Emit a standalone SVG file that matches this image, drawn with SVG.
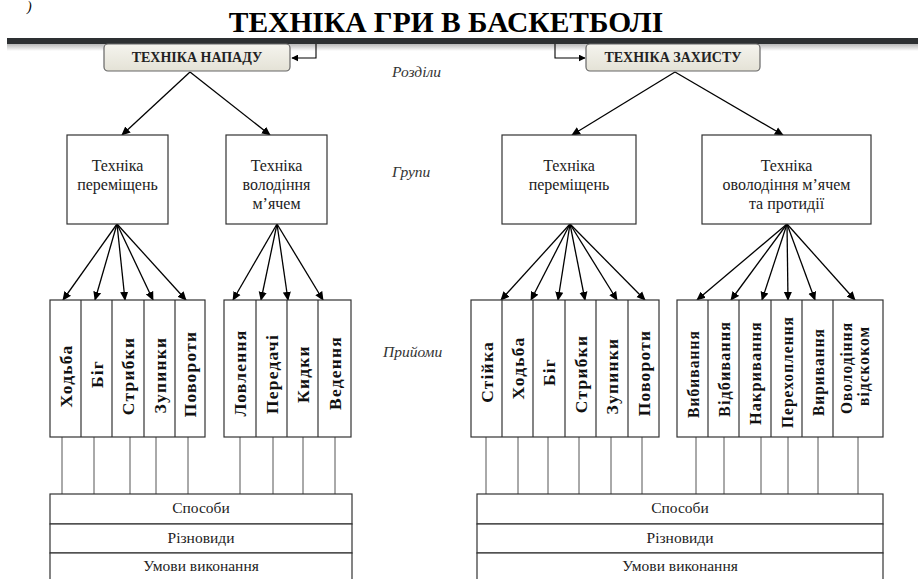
<svg xmlns="http://www.w3.org/2000/svg" width="918" height="579" viewBox="0 0 918 579">
<defs>
<linearGradient id="topfill" x1="0" y1="0" x2="0" y2="1"><stop offset="0" stop-color="#f5f4ee"/><stop offset="1" stop-color="#e4e2d6"/></linearGradient>
<linearGradient id="shadow" x1="0" y1="0" x2="0" y2="1"><stop offset="0" stop-color="#b8b8b8"/><stop offset="1" stop-color="#ffffff"/></linearGradient>
<marker id="ah" viewBox="0 0 10 10" refX="9" refY="5" markerWidth="7" markerHeight="7" markerUnits="userSpaceOnUse" orient="auto"><path d="M0,0 L10,5 L0,10 z" fill="#000"/></marker>
<marker id="ah2" viewBox="0 0 10 10" refX="9" refY="5" markerWidth="9" markerHeight="9" markerUnits="userSpaceOnUse" orient="auto"><path d="M0,0.5 L10,5 L0,9.5 z" fill="#000"/></marker>
</defs>
<style>
text{font-family:'Liberation Serif','Times New Roman','DejaVu Serif',serif}
.ttl{font-weight:bold;font-size:29.5px;fill:#000}
.top rect{fill:url(#topfill);stroke:#666;stroke-width:1.2}
.top text{font-weight:bold;font-size:14px;fill:#222;text-anchor:middle}
.grp rect{fill:#fff;stroke:#333;stroke-width:1.2}
.grp text{font-size:16px;fill:#222;text-anchor:middle}
.col rect{fill:#fff;stroke:#333;stroke-width:1.2}
.col line{stroke:#333;stroke-width:1.2}
.col text{font-weight:bold;font-size:17.5px;letter-spacing:1.2px;fill:#111;text-anchor:middle}
.lvl{font-style:italic;font-size:15.5px;fill:#333}
.rows rect{fill:#fff;stroke:#333;stroke-width:1.2}
.rows text{font-size:15.5px;fill:#222;text-anchor:middle}
.fan line{stroke:#000;stroke-width:1.3;marker-end:url(#ah2)}
.vert line{stroke:#555;stroke-width:1}
.cn{fill:none;stroke:#000;stroke-width:1.1}
</style>
<rect x="0" y="0" width="918" height="579" fill="#fff"/>
<text x="27" y="11" font-style="italic" font-size="14">)</text>
<text class="ttl" x="446" y="32" text-anchor="middle">ТЕХНІКА ГРИ В БАСКЕТБОЛІ</text>
<rect x="7" y="44" width="911" height="7" fill="url(#shadow)"/>
<rect x="7" y="38" width="911" height="6" fill="#2d3032"/>

<text class="lvl" x="392" y="77">Розділи</text>
<text class="lvl" x="392" y="177">Групи</text>
<text class="lvl" x="383" y="357">Прийоми</text>

<g id="connectors">
<path class="cn" d="M316,44 V58 H292" marker-end="url(#ah)"/>
<path class="cn" d="M555,44 V58 H585" marker-end="url(#ah)"/>
<g class="fan">
<line x1="190" y1="72" x2="122" y2="135"/>
<line x1="190" y1="72" x2="270" y2="135"/>
<line x1="675" y1="72" x2="572" y2="135"/>
<line x1="675" y1="72" x2="783" y2="135"/>
<line x1="117" y1="224" x2="63" y2="300"/>
<line x1="117" y1="224" x2="95" y2="300"/>
<line x1="117" y1="224" x2="125" y2="300"/>
<line x1="117" y1="224" x2="153" y2="300"/>
<line x1="117" y1="224" x2="186" y2="300"/>
<line x1="277" y1="224" x2="233" y2="300"/>
<line x1="277" y1="224" x2="261" y2="300"/>
<line x1="277" y1="224" x2="288" y2="300"/>
<line x1="277" y1="224" x2="323" y2="300"/>
<line x1="570" y1="224" x2="501" y2="300"/>
<line x1="570" y1="224" x2="531" y2="300"/>
<line x1="570" y1="224" x2="558" y2="300"/>
<line x1="570" y1="224" x2="585" y2="300"/>
<line x1="570" y1="224" x2="617" y2="300"/>
<line x1="570" y1="224" x2="645" y2="300"/>
<line x1="787" y1="224" x2="697" y2="300"/>
<line x1="787" y1="224" x2="731" y2="300"/>
<line x1="787" y1="224" x2="762" y2="300"/>
<line x1="787" y1="224" x2="788" y2="300"/>
<line x1="787" y1="224" x2="815" y2="300"/>
<line x1="787" y1="224" x2="855" y2="300"/>
</g>
<g class="vert">
<line x1="62" y1="437" x2="62" y2="494"/>
<line x1="94" y1="437" x2="94" y2="494"/>
<line x1="130" y1="437" x2="130" y2="494"/>
<line x1="156" y1="437" x2="156" y2="494"/>
<line x1="188" y1="437" x2="188" y2="494"/>
<line x1="240" y1="437" x2="240" y2="494"/>
<line x1="273" y1="437" x2="273" y2="494"/>
<line x1="303" y1="437" x2="303" y2="494"/>
<line x1="335" y1="437" x2="335" y2="494"/>
<line x1="486" y1="437" x2="486" y2="494"/>
<line x1="518" y1="437" x2="518" y2="494"/>
<line x1="548" y1="437" x2="548" y2="494"/>
<line x1="579" y1="437" x2="579" y2="494"/>
<line x1="611" y1="437" x2="611" y2="494"/>
<line x1="642" y1="437" x2="642" y2="494"/>
<line x1="696" y1="437" x2="696" y2="494"/>
<line x1="724" y1="437" x2="724" y2="494"/>
<line x1="761" y1="437" x2="761" y2="494"/>
<line x1="788" y1="437" x2="788" y2="494"/>
<line x1="818" y1="437" x2="818" y2="494"/>
<line x1="858" y1="437" x2="858" y2="494"/>
</g>
</g>

<g id="attack" class="top"><rect x="104" y="44" width="186" height="27" rx="4"/><text x="197" y="62">ТЕХНІКА НАПАДУ</text></g>
<g id="defense" class="top"><rect x="586" y="44" width="174" height="27" rx="4"/><text x="673" y="62">ТЕХНІКА ЗАХИСТУ</text></g>

<g id="g-att-move" class="grp"><rect x="67" y="135" width="101" height="89"/><text x="117.5" y="171">Техніка</text><text x="117.5" y="190">переміщень</text></g>
<g id="g-att-ball" class="grp"><rect x="226" y="135" width="101" height="89"/><text x="276.5" y="171">Техніка</text><text x="276.5" y="190">володіння</text><text x="276.5" y="209">м’ячем</text></g>
<g id="g-def-move" class="grp"><rect x="502" y="135" width="134" height="89"/><text x="569" y="171">Техніка</text><text x="569" y="190">переміщень</text></g>
<g id="g-def-ball" class="grp"><rect x="702" y="135" width="169" height="89"/><text x="786.5" y="171">Техніка</text><text x="786.5" y="190">оволодіння м’ячем</text><text x="786.5" y="209">та протидії</text></g>

<g id="c-att-move" class="col">
<rect x="50" y="300" width="155" height="137"/>
<line x1="81" y1="300" x2="81" y2="437"/><line x1="112" y1="300" x2="112" y2="437"/><line x1="144" y1="300" x2="144" y2="437"/><line x1="175" y1="300" x2="175" y2="437"/>
<text transform="translate(71.5,376) rotate(-90)">Ходьба</text>
<text transform="translate(102.5,374) rotate(-90)">Біг</text>
<text transform="translate(134,376) rotate(-90)">Стрибки</text>
<text transform="translate(165.5,375) rotate(-90)">Зупинки</text>
<text transform="translate(196,374) rotate(-90)">Повороти</text>
</g>
<g id="c-att-ball" class="col">
<rect x="224" y="300" width="127" height="137"/>
<line x1="256" y1="300" x2="256" y2="437"/><line x1="287" y1="300" x2="287" y2="437"/><line x1="318" y1="300" x2="318" y2="437"/>
<text transform="translate(246,373) rotate(-90)">Ловлення</text>
<text transform="translate(277.5,374) rotate(-90)">Передачі</text>
<text transform="translate(308.5,374) rotate(-90)">Кидки</text>
<text transform="translate(340.5,373) rotate(-90)">Ведення</text>
</g>
<g id="c-def-move" class="col">
<rect x="471" y="300" width="188" height="137"/>
<line x1="502" y1="300" x2="502" y2="437"/><line x1="533" y1="300" x2="533" y2="437"/><line x1="565" y1="300" x2="565" y2="437"/><line x1="596" y1="300" x2="596" y2="437"/><line x1="628" y1="300" x2="628" y2="437"/>
<text transform="translate(492.5,372) rotate(-90)">Стійка</text>
<text transform="translate(523.5,368) rotate(-90)">Ходьба</text>
<text transform="translate(555,372) rotate(-90)">Біг</text>
<text transform="translate(586.5,374) rotate(-90)">Стрибки</text>
<text transform="translate(618,376) rotate(-90)">Зупинки</text>
<text transform="translate(649.5,373) rotate(-90)">Повороти</text>
</g>
<g id="c-def-ball" class="col">
<rect x="677" y="300" width="206" height="137"/>
<line x1="708" y1="300" x2="708" y2="437"/><line x1="739" y1="300" x2="739" y2="437"/><line x1="771" y1="300" x2="771" y2="437"/><line x1="802" y1="300" x2="802" y2="437"/><line x1="833" y1="300" x2="833" y2="437"/>
<text transform="translate(698.5,374) rotate(-90)" textLength="88" lengthAdjust="spacingAndGlyphs">Вибивання</text>
<text transform="translate(729.5,369) rotate(-90)" textLength="96" lengthAdjust="spacingAndGlyphs">Відбивання</text>
<text transform="translate(761,373) rotate(-90)" textLength="104" lengthAdjust="spacingAndGlyphs">Накривання</text>
<text transform="translate(792.5,372) rotate(-90)" textLength="112" lengthAdjust="spacingAndGlyphs">Перехоплення</text>
<text transform="translate(823.5,372) rotate(-90)" textLength="88" lengthAdjust="spacingAndGlyphs">Виривання</text>
<text transform="translate(852,368) rotate(-90)" textLength="92" lengthAdjust="spacingAndGlyphs">Оволодіння</text>
<text transform="translate(869,366) rotate(-90)" textLength="80" lengthAdjust="spacingAndGlyphs">відскоком</text>
</g>

<g id="rows-left" class="rows">
<rect x="50" y="494" width="302" height="30"/><rect x="50" y="524" width="302" height="29"/><rect x="50" y="553" width="302" height="40"/>
<text x="201" y="513">Способи</text><text x="201" y="543">Різновиди</text><text x="201" y="571">Умови виконання</text>
</g>
<g id="rows-right" class="rows">
<rect x="477" y="494" width="406" height="30"/><rect x="477" y="524" width="406" height="29"/><rect x="477" y="553" width="406" height="40"/>
<text x="680" y="513">Способи</text><text x="680" y="543">Різновиди</text><text x="680" y="571">Умови виконання</text>
</g>
</svg>
